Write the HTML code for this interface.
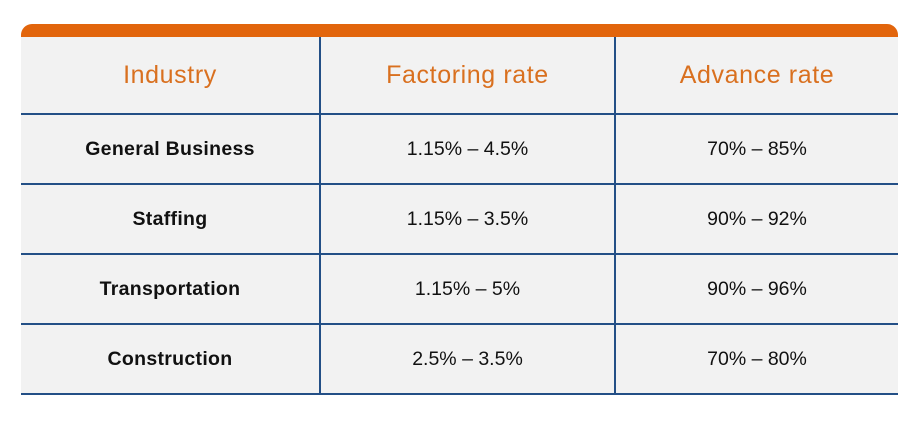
<!DOCTYPE html>
<html><head><meta charset="utf-8"><style>
body{margin:0;width:920px;height:421px;background:#fff;font-family:"Liberation Sans",sans-serif;position:relative;overflow:hidden}
.bar{position:absolute;left:21px;top:24px;width:877px;height:13px;background:#e2650c;border-radius:11px 11px 0 0}
.bg{position:absolute;left:21px;top:37px;width:877px;height:358px;background:#f2f2f2}
.h{position:absolute;left:21px;width:877px;height:2px;background:#234f86}
.v{position:absolute;top:37px;width:2px;height:358px;background:#234f86}
.c{position:absolute;display:flex;align-items:center;justify-content:center;font-size:19.5px;color:#111}
.hd{color:#d9701f;font-size:25px;letter-spacing:0.6px}
.b{font-weight:bold;font-size:19.5px;letter-spacing:0.3px}
</style></head><body>
<div class="bar"></div>
<div class="bg"></div>
<div class="h" style="top:113px"></div>
<div class="h" style="top:183px"></div>
<div class="h" style="top:253px"></div>
<div class="h" style="top:323px"></div>
<div class="h" style="top:393px"></div>
<div class="v" style="left:319px"></div>
<div class="v" style="left:614px"></div>

<div class="c hd" style="left:21px;width:298px;top:37px;height:76px">Industry</div>
<div class="c hd" style="left:321px;width:293px;top:37px;height:76px">Factoring rate</div>
<div class="c hd" style="left:616px;width:282px;top:37px;height:76px">Advance rate</div>

<div class="c b" style="left:21px;width:298px;top:115px;height:68px">General Business</div>
<div class="c" style="left:321px;width:293px;top:115px;height:68px">1.15% – 4.5%</div>
<div class="c" style="left:616px;width:282px;top:115px;height:68px">70% – 85%</div>

<div class="c b" style="left:21px;width:298px;top:185px;height:68px">Staffing</div>
<div class="c" style="left:321px;width:293px;top:185px;height:68px">1.15% – 3.5%</div>
<div class="c" style="left:616px;width:282px;top:185px;height:68px">90% – 92%</div>

<div class="c b" style="left:21px;width:298px;top:255px;height:68px">Transportation</div>
<div class="c" style="left:321px;width:293px;top:255px;height:68px">1.15% – 5%</div>
<div class="c" style="left:616px;width:282px;top:255px;height:68px">90% – 96%</div>

<div class="c b" style="left:21px;width:298px;top:325px;height:68px">Construction</div>
<div class="c" style="left:321px;width:293px;top:325px;height:68px">2.5% – 3.5%</div>
<div class="c" style="left:616px;width:282px;top:325px;height:68px">70% – 80%</div>
</body></html>
